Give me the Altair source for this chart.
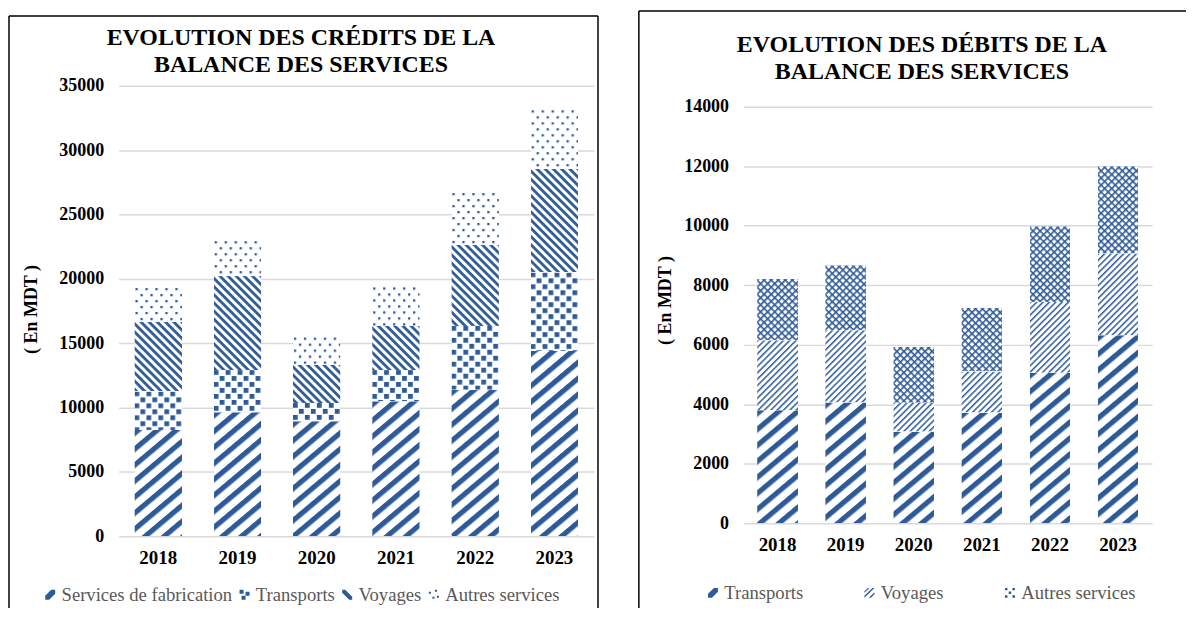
import base64
import altair as alt
import pandas as pd

# ---------------- data ----------------
years = ["2018", "2019", "2020", "2021", "2022", "2023"]

credit_series = ["Services de fabrication", "Transports", "Voyages", "Autres services"]
credit_fabrication = [8260, 9630, 8930, 10480, 11380, 14400]
credit_transports = [2990, 3280, 1420, 2430, 4960, 6100]
credit_voyages = [5420, 7300, 2970, 3430, 6320, 8050]
credit_autres = [2690, 2790, 2190, 3070, 4080, 4620]

debit_series = ["Transports", "Voyages", "Autres services"]
debit_transports = [3800, 4060, 3080, 3720, 5060, 6320]
debit_voyages = [2350, 2430, 970, 1380, 2380, 2750]
debit_autres = [2060, 2180, 1880, 2140, 2540, 2930]

credit_ticks = [0, 5000, 10000, 15000, 20000, 25000, 30000, 35000]
debit_ticks = [0, 2000, 4000, 6000, 8000, 10000, 12000, 14000]

title_credit = ["EVOLUTION DES CRÉDITS DE LA", "BALANCE DES SERVICES"]
title_debit = ["EVOLUTION DES DÉBITS DE LA", "BALANCE DES SERVICES"]
y_title = "( En MDT )"

# ---------------- styles ----------------
BLUE = "#2E5A97"
FONT = "Liberation Serif"
GRID = "#D9D9D9"


def pattern_uri(inner, w, h, rotate=0):
    tr = f' patternTransform="rotate({rotate})"' if rotate else ""
    svg = (
        '<svg xmlns="http://www.w3.org/2000/svg" width="100%" height="100%">'
        f'<defs><pattern id="p" patternUnits="userSpaceOnUse" width="{w}" height="{h}"{tr}>'
        f'{inner}</pattern></defs>'
        '<rect width="100%" height="100%" fill="#ffffff"/>'
        '<rect width="100%" height="100%" fill="url(#p)"/></svg>'
    )
    return "data:image/svg+xml;base64," + base64.b64encode(svg.encode("utf-8")).decode("ascii")


PAT_WIDE_UP = pattern_uri(f'<rect x="0" y="0" width="20" height="5.2" fill="{BLUE}"/>', 20, 12.3, -40)
PAT_BACK = pattern_uri(f'<rect x="0" y="0" width="20" height="2.8" fill="{BLUE}"/>', 20, 5.8, 45)
PAT_SQUARES = pattern_uri(
    f'<rect x="0" y="0" width="4.8" height="4.8" fill="{BLUE}"/>'
    f'<rect x="6" y="6" width="4.8" height="4.8" fill="{BLUE}"/>', 12, 12)
PAT_DOTS = pattern_uri(
    f'<rect x="1" y="1" width="2.3" height="2.3" fill="{BLUE}"/>'
    f'<rect x="6" y="7" width="2.3" height="2.3" fill="{BLUE}"/>', 10, 12)
PAT_THIN_UP = pattern_uri(f'<rect x="0" y="0" width="20" height="1.5" fill="{BLUE}"/>', 20, 4.5, -45)
PAT_CROSS = pattern_uri(
    f'<rect x="0" y="0" width="5" height="1.6" fill="{BLUE}"/>'
    f'<rect x="0" y="0" width="1.6" height="5" fill="{BLUE}"/>', 5, 5, 45)

SYM_WIDE_UP = "M-1 0.2L0.2 -1L1 -1L1 -0.2L-0.2 1L-1 1Z"
SYM_BACK = "M-1 -1L-0.4 -1L1 0.4L1 1L0.4 1L-1 -0.4Z"
SYM_SQUARES = "M-1 -1H-0.2V-0.2H-1Z M0.2 -0.6H1V0.2H0.2Z M-0.6 0.2H0.2V1H-0.6Z"
SYM_DOTS = "M-1 -0.6h0.4v0.4h-0.4Z M0.2 -1h0.4v0.4h-0.4Z M-0.3 0.4h0.4v0.4h-0.4Z M0.6 0.2h0.4v0.4h-0.4Z"
SYM_THIN_UP = "M-1 0.6L0.6 -1L1 -1L-1 1Z M-0.1 1L1 -0.1L1 0.3L0.3 1Z M-1 -0.3L-0.3 -1L0 -1L-1 0Z"
SYM_CROSS = ("M-1 -1h0.5v0.5h-0.5Z M0.5 -1h0.5v0.5h-0.5Z M-0.25 -0.25h0.5v0.5h-0.5Z "
             "M-1 0.5h0.5v0.5h-0.5Z M0.5 0.5h0.5v0.5h-0.5Z")


def make_panel(series, values, patterns, symbols, ticks, title, width, height, y_range,
               title_x, title_ys, ytitle_x, ytitle_y, legend_x, legend_y,
               legend_colpad, frame):
    rows = []
    for si, s in enumerate(series):
        for yi, yr in enumerate(years):
            rows.append({"year": yr, "serie": s, "value": values[si][yi],
                         "order": si, "url": patterns[si]})
    df = pd.DataFrame(rows)

    base = alt.Chart(df).transform_stack(
        stack="value", groupby=["year"], as_=["v0", "v1"],
        sort=[alt.SortField("order", order="ascending")],
    )

    x_enc = alt.X(
        "year:N",
        sort=years,
        scale=alt.Scale(type="band", paddingInner=0.4, paddingOuter=0.2),
        axis=alt.Axis(labelAngle=0, labelFont=FONT, labelFontSize=19, labelFontWeight="bold",
                      labelColor="black", labelPadding=12, ticks=False, domain=False,
                      grid=False, title=None),
    )
    if y_range is not None:
        y_scale = alt.Scale(domain=[ticks[0], ticks[-1]], nice=False, range=y_range)
    else:
        y_scale = alt.Scale(domain=[ticks[0], ticks[-1]], nice=False)
    y_axis = alt.Axis(values=ticks, format="d", labelFont=FONT, labelFontSize=18,
                      labelFontWeight="bold", labelColor="black", labelPadding=15,
                      ticks=False, domain=False, gridColor=GRID, gridWidth=1.5,
                      title=y_title, titleFont=FONT, titleFontSize=18, titleFontWeight="bold",
                      titleColor="black", titleX=ytitle_x, titleY=ytitle_y,
                      titleAngle=270, titleAlign="center", titleBaseline="middle")

    leg = alt.Legend(orient="none", legendX=legend_x, legendY=legend_y, direction="horizontal",
                     title=None, labelFont=FONT, labelFontSize=18.7, labelColor="#595959",
                     labelLimit=400, symbolSize=100, symbolOpacity=1, symbolStrokeWidth=0,
                     labelOffset=2, columnPadding=legend_colpad, padding=0)

    points = base.transform_calculate(mid="(datum.v0 + datum.v1) / 2").mark_point(
        filled=True, opacity=0
    ).encode(
        x=x_enc,
        y=alt.Y("mid:Q", scale=y_scale, axis=y_axis),
        color=alt.Color("serie:N", scale=alt.Scale(domain=series, range=[BLUE] * len(series)),
                        legend=leg),
        shape=alt.Shape("serie:N", scale=alt.Scale(domain=series, range=symbols), legend=leg),
    )

    bars = base.mark_image(aspect=False).encode(
        x=x_enc,
        y=alt.Y("v1:Q", scale=y_scale, axis=y_axis),
        y2="v0:Q",
        url="url:N",
    )

    fdf = pd.DataFrame({"k": [0]})
    deco = []
    for (x1, x2, y1, y2) in frame:
        enc = {"x": alt.value(x1), "y": alt.value(y1)}
        if x2 is not None:
            enc["x2"] = alt.value(x2)
        if y2 is not None:
            enc["y2"] = alt.value(y2)
        deco.append(alt.Chart(fdf).mark_rule(color="black", strokeWidth=1.5).encode(**enc))
    for line, ty in zip(title, title_ys):
        deco.append(
            alt.Chart(fdf).mark_text(font=FONT, fontSize=24, fontWeight="bold", color="black",
                                     align="center", baseline="alphabetic").encode(
                x=alt.value(title_x), y=alt.value(ty), text=alt.value(line))
        )

    return alt.layer(points, bars, *deco).properties(width=width, height=height)


left = make_panel(
    credit_series,
    [credit_fabrication, credit_transports, credit_voyages, credit_autres],
    [PAT_WIDE_UP, PAT_SQUARES, PAT_BACK, PAT_DOTS],
    [SYM_WIDE_UP, SYM_SQUARES, SYM_BACK, SYM_DOTS],
    credit_ticks, title_credit, 477, 452, None,
    title_x=183, title_ys=[-41, -14], ytitle_x=-87, ytitle_y=224,
    legend_x=-78, legend_y=501, legend_colpad=3,
    frame=[(-110, 481, -70, None), (-110, None, -70, 524), (481, None, -70, 524)],
)

right = make_panel(
    debit_series,
    [debit_transports, debit_voyages, debit_autres],
    [PAT_WIDE_UP, PAT_THIN_UP, PAT_CROSS],
    [SYM_WIDE_UP, SYM_THIN_UP, SYM_CROSS],
    debit_ticks, title_debit, 410, 439, [439, 21],
    title_x=179, title_ys=[-34, -7], ytitle_x=-78, ytitle_y=215,
    legend_x=-40, legend_y=499, legend_colpad=57,
    frame=[(-105, 444, -75, None), (-105, None, -75, 524)],
)

chart = alt.hconcat(left, right, spacing=39).resolve_scale(
    color="independent", shape="independent"
).resolve_legend(
    color="independent", shape="independent"
).properties(
    padding={"left": 0, "top": 1, "right": 0, "bottom": 0}
).configure_view(stroke=None).configure_legend(labelFont=FONT)

chart.save("out.html", embed_options={"renderer": "svg", "actions": False})
